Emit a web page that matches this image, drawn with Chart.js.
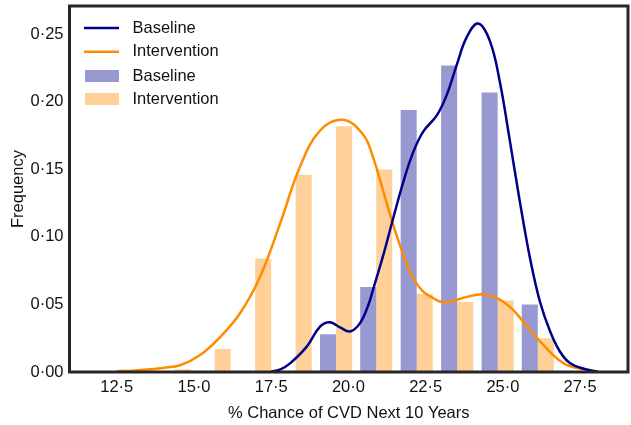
<!DOCTYPE html>
<html>
<head>
<meta charset="utf-8">
<script src="https://cdn.jsdelivr.net/npm/chart.js@4.4.1/dist/chart.umd.min.js"></script>
<style>
  html, body { margin: 0; padding: 0; background: #fff; }
  #wrap { width: 631px; height: 425px; position: relative; }
</style>
</head>
<body>
<div id="wrap"><canvas id="c" width="631" height="425"></canvas></div>
<script>
// ---- Data ----
const binCenters = [14.37, 15.67, 16.98, 18.29, 19.60, 20.90, 22.21, 23.52, 24.83, 26.13];
const baselineHist = [0, 0, 0, 0, 0.028, 0.063, 0.194, 0.227, 0.207, 0.050];
const interventionHist = [0.002, 0.017, 0.084, 0.146, 0.182, 0.150, 0.058, 0.052, 0.053, 0.025];

const baselineKdeX = [17.5, 17.8, 18.11, 18.65, 19.08, 19.40, 19.73, 20.05, 20.37, 20.65, 20.81, 21.13, 21.45, 21.78, 22.1, 22.42, 22.86, 23.18, 23.5, 23.83, 24.2, 24.58, 24.9, 25.23, 25.55, 25.88, 26.2, 26.53, 26.85, 27.18, 27.62, 28.05];
const baselineKdeY = [0.0003, 0.002, 0.0064, 0.0188, 0.0336, 0.0368, 0.033, 0.030, 0.036, 0.050, 0.062, 0.0867, 0.114, 0.141, 0.163, 0.178, 0.190, 0.205, 0.227, 0.248, 0.258, 0.245, 0.215, 0.1706, 0.126, 0.084, 0.052, 0.030, 0.015, 0.0064, 0.0024, 0.0003];

const interventionKdeX = [12.5, 13.0, 13.58, 14.0, 14.55, 15.2, 15.85, 16.49, 17.14, 17.79, 18.43, 19.09, 19.82, 20.48, 20.81, 21.13, 21.45, 21.78, 22.1, 22.42, 22.75, 23.07, 23.4, 23.72, 24.31, 24.7, 25.01, 25.33, 25.66, 26.31, 26.97, 27.62, 28.1];
const interventionKdeY = [0.0005, 0.001, 0.002, 0.003, 0.005, 0.0126, 0.026, 0.0435, 0.0706, 0.110, 0.152, 0.179, 0.1867, 0.1756, 0.158, 0.1336, 0.109, 0.0867, 0.0694, 0.0595, 0.0546, 0.0516, 0.0526, 0.055, 0.0575, 0.0558, 0.052, 0.046, 0.0373, 0.020, 0.0064, 0.002, 0.0003];

const xTicks = [12.5, 15.0, 17.5, 20.0, 22.5, 25.0, 27.5];
const yTicks = [0.00, 0.05, 0.10, 0.15, 0.20, 0.25];
const seriesLabels = ['Baseline', 'Intervention'];
const xTitle = '% Chance of CVD Next 10 Years';
const yTitle = 'Frequency';

// ---- Styles ----
const FONT = '"Liberation Sans", Arial, Helvetica, sans-serif';
const FS = 16.5;
const TXT = '#111111';
const lineColors = ['#00008B', '#FF8C00'];
const barColors = ['rgba(0,0,139,0.4)', 'rgba(255,140,0,0.4)'];
const SPINE = '#262626';

const toXY = (xs, ys) => xs.map((x, i) => ({ x: x, y: ys[i] }));

const framePlugin = {
  id: 'frame',
  afterDraw(chart) {
    const { ctx, chartArea: a } = chart;
    ctx.save();
    ctx.strokeStyle = SPINE;
    ctx.lineWidth = 3;
    ctx.strokeRect(a.left, a.top, a.right - a.left, a.bottom - a.top);
    ctx.restore();
  }
};

const legendPlugin = {
  id: 'insideLegend',
  afterDraw(chart) {
    const ctx = chart.ctx;
    ctx.save();
    ctx.font = FS + 'px ' + FONT;
    ctx.textBaseline = 'middle';
    ctx.textAlign = 'left';
    const rows = [28, 51.7, 76, 99];
    for (let i = 0; i < 2; i++) {
      ctx.strokeStyle = lineColors[i];
      ctx.lineWidth = 2.5;
      ctx.beginPath();
      ctx.moveTo(84, rows[i]);
      ctx.lineTo(119, rows[i]);
      ctx.stroke();
      ctx.fillStyle = TXT;
      ctx.fillText(seriesLabels[i], 132.5, rows[i]);
    }
    for (let i = 0; i < 2; i++) {
      ctx.fillStyle = barColors[i];
      ctx.fillRect(85, rows[i + 2] - 6, 34, 12);
      ctx.fillStyle = TXT;
      ctx.fillText(seriesLabels[i], 132.5, rows[i + 2]);
    }
    ctx.restore();
  }
};

new Chart(document.getElementById('c'), {
  type: 'bar',
  data: {
    datasets: [
      { type: 'line', label: seriesLabels[0], data: toXY(baselineKdeX, baselineKdeY),
        borderColor: lineColors[0], borderWidth: 2.5, pointRadius: 0, fill: false, tension: 0.4 },
      { type: 'line', label: seriesLabels[1], data: toXY(interventionKdeX, interventionKdeY),
        borderColor: lineColors[1], borderWidth: 2.5, pointRadius: 0, fill: false, tension: 0.4 },
      { type: 'bar', label: seriesLabels[0], data: toXY(binCenters, baselineHist),
        backgroundColor: barColors[0], borderWidth: 0, categoryPercentage: 0.8, barPercentage: 1.0 },
      { type: 'bar', label: seriesLabels[1], data: toXY(binCenters, interventionHist),
        backgroundColor: barColors[1], borderWidth: 0, categoryPercentage: 0.8, barPercentage: 1.0 }
    ]
  },
  options: {
    responsive: false,
    animation: false,
    devicePixelRatio: 1,
    layout: { padding: { left: 0, right: 3, top: 6, bottom: 0 } },
    plugins: { legend: { display: false }, tooltip: { enabled: false } },
    scales: {
      x: {
        type: 'linear', min: 10.97, max: 29.05, offset: false,
        grid: { display: false, drawTicks: false, offset: false },
        border: { display: false },
        afterBuildTicks: ax => { ax.ticks = xTicks.map(v => ({ value: v })); },
        afterFit: ax => { ax.height = 425 - 372; ax.paddingLeft = 0; ax.paddingRight = 0; },
        ticks: { padding: 6, color: TXT, font: { family: FONT, size: FS },
                 callback: v => Number(v).toFixed(1).replace('.', '\u00B7'), maxRotation: 0, autoSkip: false },
        title: { display: true, text: xTitle, color: TXT, font: { family: FONT, size: FS },
                 padding: { top: 0, bottom: 2 } }
      },
      y: {
        type: 'linear', min: 0, max: 0.271,
        grid: { display: false, drawTicks: false },
        border: { display: false },
        afterBuildTicks: ax => { ax.ticks = yTicks.map(v => ({ value: v })); },
        afterFit: ax => { ax.width = 69.5; ax.paddingTop = 0; ax.paddingBottom = 0; },
        ticks: { padding: 6, color: TXT, font: { family: FONT, size: FS },
                 callback: v => Number(v).toFixed(2).replace('.', '\u00B7'), autoSkip: false },
        title: { display: true, text: yTitle, color: TXT, font: { family: FONT, size: FS },
                 padding: { top: 8.5, bottom: 0 } }
      }
    }
  },
  plugins: [framePlugin, legendPlugin]
});
</script>
</body>
</html>
